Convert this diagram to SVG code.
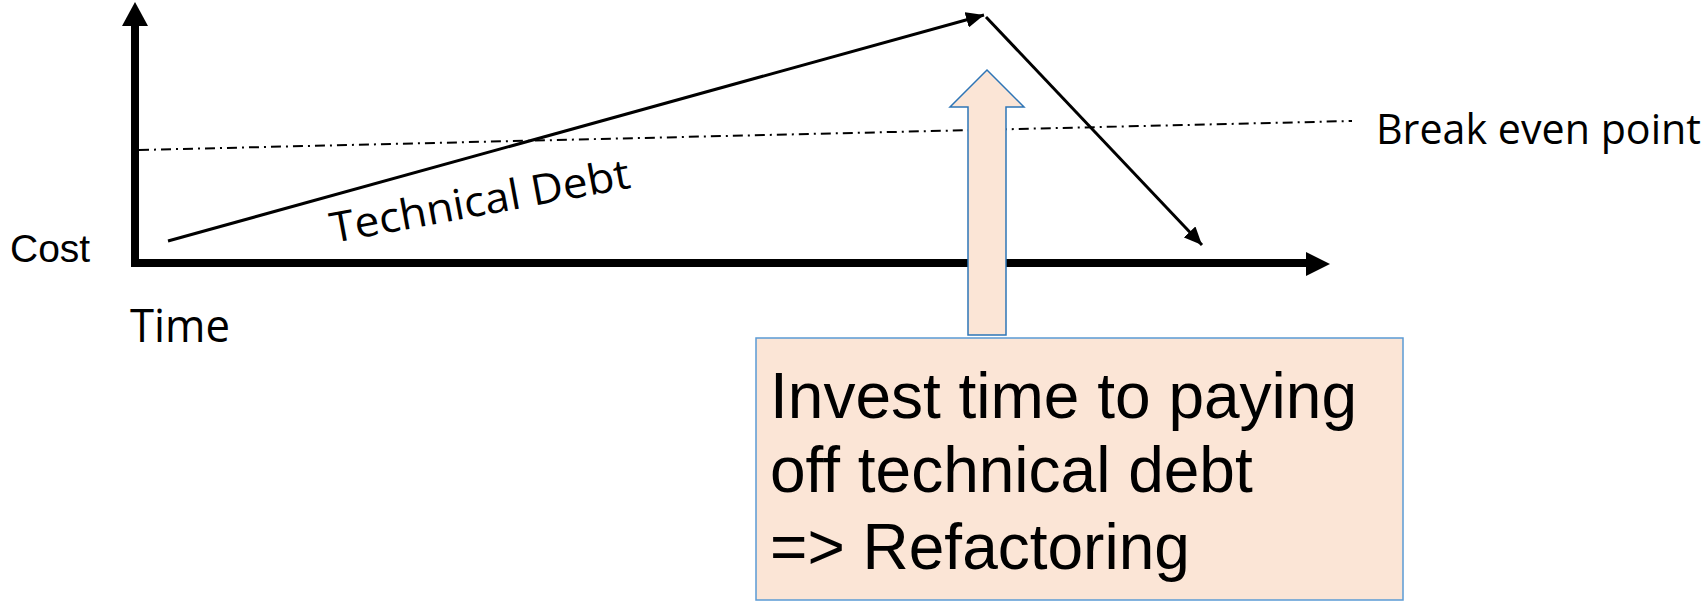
<svg xmlns="http://www.w3.org/2000/svg" width="1708" height="607" viewBox="0 0 1708 607">
  <style>
    .calib { font-family: "Open Sans", "Noto Sans", sans-serif; fill: #000; }
    .arial { font-family: "Liberation Sans", Arial, sans-serif; fill: #000; }
    .thin { stroke: #000; stroke-width: 3; fill: none; }
    .axis { stroke: #000; stroke-width: 8; fill: none; }
    .peach { fill: #FBE5D6; }
  </style>
  <defs>
    <marker id="headThin" markerUnits="userSpaceOnUse" markerWidth="20" markerHeight="16" refX="18" refY="8" orient="auto">
      <path d="M0,0 L18,8 L0,16 Z" fill="#000"/>
    </marker>
  </defs>
  <rect width="1708" height="607" fill="#fff"/>

  <g id="break-even-line">
    <line x1="139" y1="150" x2="1352" y2="121" stroke="#000" stroke-width="2" stroke-dasharray="10 5 2 5"/>
  </g>

  <g id="axes">
    <path class="axis" d="M135,263 L135,24"/>
    <polygon points="135,2 148,26 122,26" fill="#000"/>
    <path class="axis" d="M131,263 L1308,263"/>
    <polygon points="1330,264 1306,252 1306,276" fill="#000"/>
  </g>

  <g id="connectors">
    <line class="thin" x1="168" y1="241" x2="984" y2="15" marker-end="url(#headThin)"/>
    <line class="thin" x1="986" y1="17" x2="1202" y2="245" marker-end="url(#headThin)"/>
  </g>

  <g id="labels">
    <text class="arial" x="10" y="262" font-size="39">Cost</text>
    <text class="calib" x="130" y="342" font-size="46" textLength="100" lengthAdjust="spacingAndGlyphs">Time</text>
    <text class="calib" x="1376" y="144" font-size="42" textLength="325" lengthAdjust="spacingAndGlyphs">Break even point</text>
    <text class="calib" x="0" y="0" font-size="42" textLength="304" lengthAdjust="spacingAndGlyphs" transform="translate(333,243) rotate(-10.5)">Technical Debt</text>
  </g>

  <g id="refactor-arrow">
    <polygon class="peach" points="987,70 1024,107 1006,107 1006,335 968,335 968,107 950,107" stroke="#2E75B6" stroke-width="1.5"/>
  </g>

  <g id="refactor-box">
    <rect class="peach" x="756" y="338" width="647" height="262" stroke="#5B9BD5" stroke-width="1.5"/>
    <text class="arial" x="770" y="418" font-size="64">Invest time to paying</text>
    <text class="arial" x="770" y="492" font-size="64">off technical debt</text>
    <text class="arial" x="770" y="569" font-size="64">=&gt; Refactoring</text>
  </g>
</svg>
